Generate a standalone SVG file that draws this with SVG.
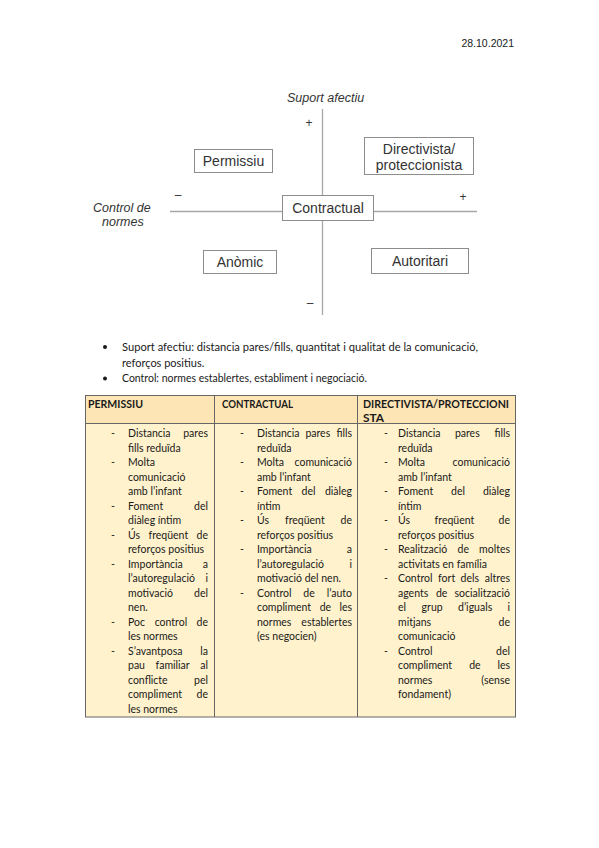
<svg xmlns="http://www.w3.org/2000/svg" width="599" height="848" viewBox="0 0 599 848">
<style>
.bg{fill:#ffffff}
.ax{stroke:#a6a6a6;stroke-width:1.3;fill:none}
.box{fill:#ffffff;stroke:#8c8c8c;stroke-width:1}
.lbl{font-family:"Liberation Sans",Arial,sans-serif;font-size:14px;fill:#333333;text-anchor:middle}
.it{font-family:"Liberation Sans",Arial,sans-serif;font-size:12.5px;font-style:italic;fill:#333333}
.sg{font-family:"Liberation Sans",Arial,sans-serif;font-size:12px;fill:#333333;text-anchor:middle}
.b{font-family:Lato,"Liberation Sans",sans-serif;font-size:11px;fill:#1a1a1a}
.t{font-family:Lato,"Liberation Sans",sans-serif;font-size:10.5px;fill:#1a1a1a}
.h{font-family:Lato,"Liberation Sans",sans-serif;font-size:11px;font-weight:bold;fill:#1a1a1a}
.e{text-anchor:end}
.hd{fill:#fde5b5}
.bd{fill:#fff2cc}
.gl{stroke:#666666;stroke-width:1;fill:none}
</style>
<rect class="bg" x="0" y="0" width="599" height="848"/>
<text x="514" y="47" class="e" style="font-family:'Liberation Sans',sans-serif;font-size:10.5px;fill:#1a1a1a">28.10.2021</text>

<g id="connectors">
<line class="ax" x1="322.5" y1="109" x2="322.5" y2="315"/>
<line class="ax" x1="170" y1="211.5" x2="477" y2="211.5"/>
</g>
<text class="it" x="287" y="102">Suport afectiu</text>
<text class="it" x="93" y="212">Control de</text>
<text class="it" x="102" y="226">normes</text>
<text class="sg" x="309" y="127">+</text>
<text class="sg" x="178" y="199">–</text>
<text class="sg" x="463" y="201">+</text>
<text class="sg" x="310" y="307">–</text>

<g id="permissiu">
<rect class="box" x="194.5" y="149.5" width="78" height="23"/>
<text class="lbl" x="233.5" y="166">Permissiu</text>
</g>
<g id="directivista">
<rect class="box" x="364.5" y="137.5" width="109" height="37"/>
<text class="lbl" x="419" y="154">Directivista/</text>
<text class="lbl" x="419" y="170">proteccionista</text>
</g>
<g id="contractual">
<rect class="box" x="282.5" y="195.5" width="91" height="25"/>
<text class="lbl" x="328" y="213">Contractual</text>
</g>
<g id="anomic">
<rect class="box" x="203.5" y="250.5" width="73" height="23"/>
<text class="lbl" x="240" y="267">Anòmic</text>
</g>
<g id="autoritari">
<rect class="box" x="371.5" y="248.5" width="97" height="25"/>
<text class="lbl" x="420" y="266">Autoritari</text>
</g>

<circle cx="105" cy="347" r="2" fill="#1a1a1a"/>
<circle cx="105" cy="378.5" r="2" fill="#1a1a1a"/>
<text class="b" x="122" y="351" textLength="356" lengthAdjust="spacingAndGlyphs">Suport afectiu: distancia pares/fills, quantitat i qualitat de la comunicació,</text>
<text class="b" x="122" y="366.5">reforços positius.</text>
<text class="b" x="122" y="382" textLength="245" lengthAdjust="spacingAndGlyphs">Control: normes establertes, establiment i negociació.</text>

<g id="table">
<rect class="hd" x="85" y="395" width="431" height="28"/>
<rect class="bd" x="85" y="423" width="431" height="294"/>
<rect class="gl" x="85.5" y="395.5" width="430" height="321.5"/>
<line class="gl" x1="214.5" y1="395" x2="214.5" y2="717"/>
<line class="gl" x1="357.5" y1="395" x2="357.5" y2="717"/>
<line class="gl" x1="85" y1="423.5" x2="516" y2="423.5"/>

<text class="h" x="88" y="408" textLength="55" lengthAdjust="spacingAndGlyphs">PERMISSIU</text>
<text class="h" x="222" y="408" textLength="71" lengthAdjust="spacingAndGlyphs">CONTRACTUAL</text>
<text class="h" x="363" y="408" textLength="146" lengthAdjust="spacingAndGlyphs">DIRECTIVISTA/PROTECCIONI</text>
<text class="h" x="363" y="422" textLength="21" lengthAdjust="spacingAndGlyphs">STA</text>

<!-- column 1 -->
<g class="t">
<text x="111" y="437">-</text>
<text x="111" y="466">-</text>
<text x="111" y="509.5">-</text>
<text x="111" y="538.5">-</text>
<text x="111" y="567.5">-</text>
<text x="111" y="625.5">-</text>
<text x="111" y="654.5">-</text>
<text x="128" y="437">Distancia</text><text class="e" x="208" y="437">pares</text>
<text x="128" y="451.5">fills reduïda</text>
<text x="128" y="466">Molta</text>
<text x="128" y="480.5">comunicació</text>
<text x="128" y="495">amb l’infant</text>
<text x="128" y="509.5">Foment</text><text class="e" x="208" y="509.5">del</text>
<text x="128" y="524">diàleg íntim</text>
<text x="128" y="538.5">Ús</text><text x="148.5" y="538.5">freqüent</text><text class="e" x="208" y="538.5">de</text>
<text x="128" y="553">reforços positius</text>
<text x="128" y="567.5">Importància</text><text class="e" x="208" y="567.5">a</text>
<text x="128" y="582">l’autoregulació</text><text class="e" x="208" y="582">i</text>
<text x="128" y="596.5">motivació</text><text class="e" x="208" y="596.5">del</text>
<text x="128" y="611">nen.</text>
<text x="128" y="625.5">Poc</text><text x="154.7" y="625.5">control</text><text class="e" x="208" y="625.5">de</text>
<text x="128" y="640">les normes</text>
<text x="128" y="654.5">S’avantposa</text><text class="e" x="208" y="654.5">la</text>
<text x="128" y="669">pau</text><text x="155.6" y="669">familiar</text><text class="e" x="208" y="669">al</text>
<text x="128" y="683.5">conflicte</text><text class="e" x="208" y="683.5">pel</text>
<text x="128" y="698">compliment</text><text class="e" x="208" y="698">de</text>
<text x="128" y="712.5">les normes</text>
</g>

<!-- column 2 -->
<g class="t">
<text x="240" y="437">-</text>
<text x="240" y="466">-</text>
<text x="240" y="495">-</text>
<text x="240" y="524">-</text>
<text x="240" y="553">-</text>
<text x="240" y="596.5">-</text>
<text x="257" y="437">Distancia</text><text x="305.4" y="437">pares</text><text class="e" x="352" y="437">fills</text>
<text x="257" y="451.5">reduïda</text>
<text x="257" y="466">Molta</text><text class="e" x="352" y="466">comunicació</text>
<text x="257" y="480.5">amb l’infant</text>
<text x="257" y="495">Foment</text><text x="301.6" y="495">del</text><text class="e" x="352" y="495">diàleg</text>
<text x="257" y="509.5">íntim</text>
<text x="257" y="524">Ús</text><text x="285" y="524">freqüent</text><text class="e" x="352" y="524">de</text>
<text x="257" y="538.5">reforços positius</text>
<text x="257" y="553">Importància</text><text class="e" x="352" y="553">a</text>
<text x="257" y="567.5">l’autoregulació</text><text class="e" x="352" y="567.5">i</text>
<text x="257" y="582">motivació del nen.</text>
<text x="257" y="596.5">Control</text><text x="303.3" y="596.5">de</text><text class="e" x="352" y="596.5">l’auto</text>
<text x="257" y="611">compliment</text><text x="319.7" y="611">de</text><text class="e" x="352" y="611">les</text>
<text x="257" y="625.5">normes</text><text class="e" x="352" y="625.5">establertes</text>
<text x="257" y="640">(es negocien)</text>
</g>

<!-- column 3 -->
<g class="t">
<text x="384" y="437">-</text>
<text x="384" y="466">-</text>
<text x="384" y="495">-</text>
<text x="384" y="524">-</text>
<text x="384" y="553">-</text>
<text x="384" y="582">-</text>
<text x="384" y="654.5">-</text>
<text x="398" y="437">Distancia</text><text x="454.9" y="437">pares</text><text class="e" x="510" y="437">fills</text>
<text x="398" y="451.5">reduïda</text>
<text x="398" y="466">Molta</text><text class="e" x="510" y="466">comunicació</text>
<text x="398" y="480.5">amb l’infant</text>
<text x="398" y="495">Foment</text><text x="451.1" y="495">del</text><text class="e" x="510" y="495">diàleg</text>
<text x="398" y="509.5">íntim</text>
<text x="398" y="524">Ús</text><text x="434.6" y="524">freqüent</text><text class="e" x="510" y="524">de</text>
<text x="398" y="538.5">reforços positius</text>
<text x="398" y="553">Realització</text><text x="457.5" y="553">de</text><text class="e" x="510" y="553">moltes</text>
<text x="398" y="567.5">activitats en família</text>
<text x="398" y="582">Control</text><text x="438.1" y="582">fort</text><text x="460.6" y="582">dels</text><text class="e" x="510" y="582">altres</text>
<text x="398" y="596.5">agents</text><text x="435.9" y="596.5">de</text><text class="e" x="510" y="596.5">socialització</text>
<text x="398" y="611">el</text><text x="421.6" y="611">grup</text><text x="458" y="611">d’iguals</text><text class="e" x="510" y="611">i</text>
<text x="398" y="625.5">mitjans</text><text class="e" x="510" y="625.5">de</text>
<text x="398" y="640">comunicació</text>
<text x="398" y="654.5">Control</text><text class="e" x="510" y="654.5">del</text>
<text x="398" y="669">compliment</text><text x="469.2" y="669">de</text><text class="e" x="510" y="669">les</text>
<text x="398" y="683.5">normes</text><text class="e" x="510" y="683.5">(sense</text>
<text x="398" y="698">fondament)</text>
</g>
</g>
</svg>
